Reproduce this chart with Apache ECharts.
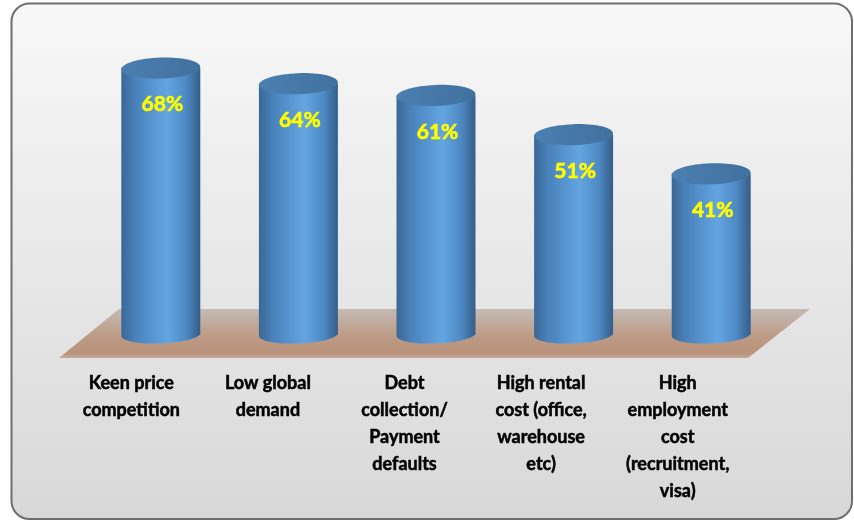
<!DOCTYPE html>
<html>
<head>
<meta charset="utf-8">
<script src="https://cdn.jsdelivr.net/npm/echarts@6/dist/echarts.min.js"></script>
<style>
html,body{margin:0;padding:0;background:#fff;}
#chart{width:854px;height:521px;}
</style>
</head>
<body>
<div id="chart"></div>
<script>
var categories = [
  'Keen price\ncompetition',
  'Low global\ndemand',
  'Debt\ncollection/\nPayment\ndefaults',
  'High rental\ncost (office,\nwarehouse\netc)',
  'High\nemployment\ncost\n(recruitment,\nvisa)'
];
var values = [68, 64, 61, 51, 41];

var chart = echarts.init(document.getElementById('chart'), null, {renderer: 'canvas'});

var bodyGrad = {
  type: 'linear', x: 0, y: 0, x2: 1, y2: 0,
  colorStops: [
    {offset: 0, color: '#3a6896'},
    {offset: 0.18, color: '#4a82bb'},
    {offset: 0.58, color: '#63a5e2'},
    {offset: 0.82, color: '#4e89c3'},
    {offset: 1, color: '#345e89'}
  ]
};
var topGrad = {
  type: 'linear', x: 0, y: 0, x2: 1, y2: 1,
  colorStops: [
    {offset: 0, color: '#4b80b2'},
    {offset: 1, color: '#41709d'}
  ]
};

var option = {
  animation: false,
  graphic: [
    {
      type: 'rect', z: 0, silent: true,
      shape: {x: 11.5, y: 3.5, width: 840.5, height: 515.5, r: 18},
      style: {
        fill: {type: 'linear', x: 0, y: 0, x2: 0, y2: 1,
          colorStops: [{offset: 0, color: '#f8f8f8'}, {offset: 1, color: '#d8d8d8'}]},
        stroke: '#6e6e6e', lineWidth: 2
      }
    },
    {
      type: 'polygon', z: 1, silent: true,
      shape: {points: [[119, 309], [810, 309], [748, 358], [59, 358]]},
      style: {
        fill: {type: 'linear', x: 0, y: 0, x2: 0, y2: 1,
          colorStops: [
            {offset: 0, color: '#c4bbb4'},
            {offset: 0.55, color: '#bd9b86'},
            {offset: 0.9, color: '#b9927a'},
            {offset: 1, color: '#c3a999'}
          ]}
      }
    }
  ],
  grid: [
    {left: 63, width: 683, top: 21, bottom: 163},
    {left: 92, width: 688, top: 21, bottom: 186.5}
  ],
  xAxis: [
    {
      type: 'category', gridIndex: 0, data: categories,
      axisLine: {show: false}, axisTick: {show: false}, splitLine: {show: false},
      axisLabel: {
        interval: 0, margin: 12, color: '#000', fontWeight: 'bold',
        fontFamily: 'Lato', fontSize: 18, lineHeight: 27, align: 'center',
        textBorderColor: '#000', textBorderWidth: 0.5
      }
    },
    {
      type: 'category', gridIndex: 1, data: categories, show: false
    }
  ],
  yAxis: [
    {type: 'value', gridIndex: 0, show: false, min: 0, max: 80},
    {type: 'value', gridIndex: 1, show: false, min: 0, max: 80}
  ],
  series: [
    {
      type: 'custom', xAxisIndex: 1, yAxisIndex: 1, z: 10,
      data: values.map(function (v, i) { return [i, v]; }),
      renderItem: function (params, api) {
        var idx = api.value(0), v = api.value(1);
        var top = api.coord([idx, v]);
        var base = api.coord([idx, 0]);
        var bw = api.size([1, 0])[0];
        var rx = bw * 0.287;
        var cx = top[0];
        return {
          type: 'group',
          children: [
            {
              type: 'ellipse',
              shape: {cx: cx, cy: base[1], rx: rx, ry: 9},
              rotation: 0.035, originX: cx, originY: base[1],
              style: {fill: bodyGrad}
            },
            {
              type: 'rect',
              shape: {x: cx - rx, y: top[1], width: rx * 2, height: base[1] - top[1]},
              style: {fill: bodyGrad}
            },
            {
              type: 'ellipse',
              shape: {cx: cx, cy: top[1], rx: rx, ry: 10.5},
              rotation: 0.035, originX: cx, originY: top[1],
              style: {fill: topGrad}
            },
            {
              type: 'text',
              x: cx + 1.5, y: top[1] + 36.5,
              style: {
                text: values[idx] + '%', fill: '#ffff00',
                font: 'bold 21px Lato', align: 'center', verticalAlign: 'middle',
                stroke: '#ffff00', lineWidth: 0.6
              }
            }
          ]
        };
      }
    }
  ]
};
chart.setOption(option);
</script>
</body>
</html>
